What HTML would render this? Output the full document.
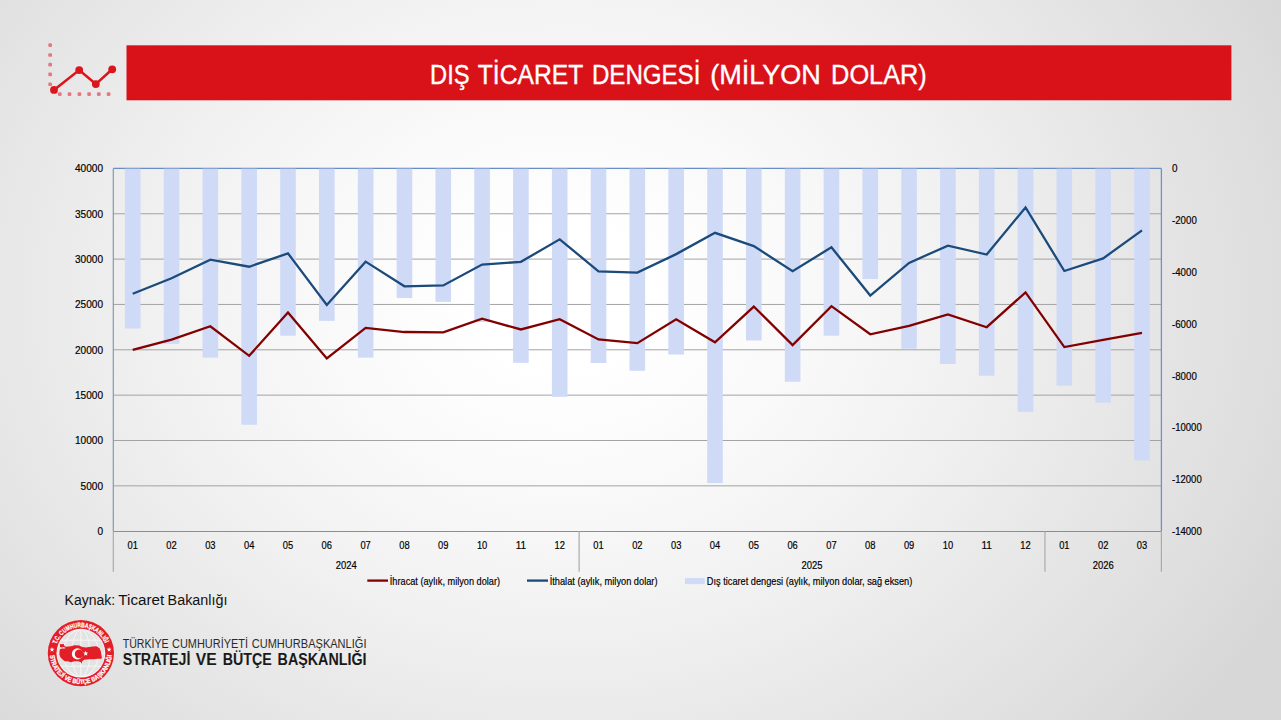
<!DOCTYPE html>
<html><head><meta charset="utf-8"><title>Dış Ticaret Dengesi</title>
<style>
html,body{margin:0;padding:0;}
body{width:1281px;height:720px;overflow:hidden;position:relative;background:radial-gradient(ellipse 810px 660px at 562px 298px, rgb(255,255,255) 0%, rgb(255,255,255) 10%, rgb(252,252,252) 20%, rgb(249,249,249) 30%, rgb(245,245,245) 40%, rgb(241,241,241) 50%, rgb(236,236,236) 60%, rgb(231,231,231) 70%, rgb(226,226,226) 80%, rgb(221,221,221) 90%, rgb(215,215,215) 100%);font-family:"Liberation Sans",sans-serif;}
svg{position:absolute;left:0;top:0;}
</style></head><body>
<svg width="1281" height="720" viewBox="0 0 1281 720">
<rect x="48.3" y="43.25" width="3.7" height="3.7" rx="1.2" fill="#e27980"/>
<rect x="48.3" y="53.15" width="3.7" height="3.7" rx="1.2" fill="#e27980"/>
<rect x="48.3" y="62.85" width="3.7" height="3.7" rx="1.2" fill="#e27980"/>
<rect x="48.3" y="72.55" width="3.7" height="3.7" rx="1.2" fill="#e27980"/>
<rect x="48.3" y="82.40" width="3.7" height="3.7" rx="1.2" fill="#e27980"/>
<rect x="57.95" y="92.35" width="3.7" height="3.7" rx="1.2" fill="#e27980"/>
<rect x="67.65" y="92.35" width="3.7" height="3.7" rx="1.2" fill="#e27980"/>
<rect x="77.55" y="92.35" width="3.7" height="3.7" rx="1.2" fill="#e27980"/>
<rect x="87.25" y="92.35" width="3.7" height="3.7" rx="1.2" fill="#e27980"/>
<rect x="96.95" y="92.35" width="3.7" height="3.7" rx="1.2" fill="#e27980"/>
<rect x="106.75" y="92.35" width="3.7" height="3.7" rx="1.2" fill="#e27980"/>
<polyline points="54,89.9 79.2,70.1 95.8,84.1 112.2,69.3" fill="none" stroke="#dc141c" stroke-width="2.6"/>
<circle cx="54" cy="89.9" r="3.9" fill="#dc141c"/>
<circle cx="79.2" cy="70.1" r="3.9" fill="#dc141c"/>
<circle cx="95.8" cy="84.1" r="3.9" fill="#dc141c"/>
<circle cx="112.2" cy="69.3" r="3.9" fill="#dc141c"/>
<rect x="126.5" y="45.3" width="1104.9" height="55" fill="#d9121a"/>
<text x="430.1" y="83.6" font-size="27" fill="#fff" stroke="#fff" stroke-width="0.35" font-family="Liberation Sans, sans-serif" textLength="39.5" lengthAdjust="spacingAndGlyphs">DIŞ</text>
<text x="477.8" y="83.6" font-size="27" fill="#fff" stroke="#fff" stroke-width="0.35" font-family="Liberation Sans, sans-serif" textLength="105.5" lengthAdjust="spacingAndGlyphs">TİCARET</text>
<text x="591.9" y="83.6" font-size="27" fill="#fff" stroke="#fff" stroke-width="0.35" font-family="Liberation Sans, sans-serif" textLength="108.5" lengthAdjust="spacingAndGlyphs">DENGESİ</text>
<text x="710.2" y="83.6" font-size="27" fill="#fff" stroke="#fff" stroke-width="0.35" font-family="Liberation Sans, sans-serif" textLength="110.7" lengthAdjust="spacingAndGlyphs">(MİLYON</text>
<text x="831.1" y="83.6" font-size="27" fill="#fff" stroke="#fff" stroke-width="0.35" font-family="Liberation Sans, sans-serif" textLength="95.7" lengthAdjust="spacingAndGlyphs">DOLAR)</text>
<line x1="113.3" y1="485.85" x2="1161.4" y2="485.85" stroke="#a3a3a3" stroke-width="1"/>
<line x1="113.3" y1="440.50" x2="1161.4" y2="440.50" stroke="#a3a3a3" stroke-width="1"/>
<line x1="113.3" y1="395.15" x2="1161.4" y2="395.15" stroke="#a3a3a3" stroke-width="1"/>
<line x1="113.3" y1="349.80" x2="1161.4" y2="349.80" stroke="#a3a3a3" stroke-width="1"/>
<line x1="113.3" y1="304.45" x2="1161.4" y2="304.45" stroke="#a3a3a3" stroke-width="1"/>
<line x1="113.3" y1="259.10" x2="1161.4" y2="259.10" stroke="#a3a3a3" stroke-width="1"/>
<line x1="113.3" y1="213.75" x2="1161.4" y2="213.75" stroke="#a3a3a3" stroke-width="1"/>
<line x1="113.3" y1="168.4" x2="1161.4" y2="168.4" stroke="#6a8cc6" stroke-width="1.3"/>
<rect x="124.91" y="168.70" width="15.6" height="159.80" fill="#cfdaf7"/>
<rect x="163.73" y="168.70" width="15.6" height="175.09" fill="#cfdaf7"/>
<rect x="202.55" y="168.70" width="15.6" height="188.90" fill="#cfdaf7"/>
<rect x="241.36" y="168.70" width="15.6" height="256.04" fill="#cfdaf7"/>
<rect x="280.18" y="168.70" width="15.6" height="167.00" fill="#cfdaf7"/>
<rect x="319.00" y="168.70" width="15.6" height="152.18" fill="#cfdaf7"/>
<rect x="357.82" y="168.70" width="15.6" height="188.90" fill="#cfdaf7"/>
<rect x="396.64" y="168.70" width="15.6" height="129.27" fill="#cfdaf7"/>
<rect x="435.46" y="168.70" width="15.6" height="133.18" fill="#cfdaf7"/>
<rect x="474.28" y="168.70" width="15.6" height="153.37" fill="#cfdaf7"/>
<rect x="513.09" y="168.70" width="15.6" height="194.11" fill="#cfdaf7"/>
<rect x="551.91" y="168.70" width="15.6" height="228.13" fill="#cfdaf7"/>
<rect x="590.73" y="168.70" width="15.6" height="194.32" fill="#cfdaf7"/>
<rect x="629.55" y="168.70" width="15.6" height="202.09" fill="#cfdaf7"/>
<rect x="668.37" y="168.70" width="15.6" height="185.84" fill="#cfdaf7"/>
<rect x="707.19" y="168.70" width="15.6" height="314.38" fill="#cfdaf7"/>
<rect x="746.01" y="168.70" width="15.6" height="171.77" fill="#cfdaf7"/>
<rect x="784.82" y="168.70" width="15.6" height="213.03" fill="#cfdaf7"/>
<rect x="823.64" y="168.70" width="15.6" height="167.00" fill="#cfdaf7"/>
<rect x="862.46" y="168.70" width="15.6" height="110.25" fill="#cfdaf7"/>
<rect x="901.28" y="168.70" width="15.6" height="180.01" fill="#cfdaf7"/>
<rect x="940.10" y="168.70" width="15.6" height="195.30" fill="#cfdaf7"/>
<rect x="978.92" y="168.70" width="15.6" height="207.01" fill="#cfdaf7"/>
<rect x="1017.74" y="168.70" width="15.6" height="243.14" fill="#cfdaf7"/>
<rect x="1056.55" y="168.70" width="15.6" height="217.02" fill="#cfdaf7"/>
<rect x="1095.37" y="168.70" width="15.6" height="233.94" fill="#cfdaf7"/>
<rect x="1134.19" y="168.70" width="15.6" height="291.75" fill="#cfdaf7"/>
<line x1="113.3" y1="531.5" x2="1161.4" y2="531.5" stroke="#7d90aa" stroke-width="1"/>
<line x1="113.3" y1="168.4" x2="113.3" y2="531.2" stroke="#8599b3" stroke-width="1.2"/>
<line x1="113.3" y1="531.2" x2="113.3" y2="571.8" stroke="#ababab" stroke-width="1.2"/>
<line x1="1161.4" y1="168.4" x2="1161.4" y2="531.2" stroke="#6b93c9" stroke-width="1.3"/>
<line x1="1161.4" y1="531.2" x2="1161.4" y2="571.8" stroke="#ababab" stroke-width="1.2"/>
<line x1="579.12" y1="531.2" x2="579.12" y2="571.8" stroke="#ababab" stroke-width="1.2"/>
<line x1="1044.94" y1="531.2" x2="1044.94" y2="571.8" stroke="#ababab" stroke-width="1.2"/>
<polyline points="132.71,293.75 171.53,278.24 210.35,259.64 249.16,266.72 287.98,253.39 326.80,304.90 365.62,261.64 404.44,286.31 443.26,285.40 482.08,264.54 520.89,261.82 559.71,239.33 598.53,271.34 637.35,272.61 676.17,254.11 714.99,232.80 753.81,246.13 792.62,271.16 831.44,247.31 870.26,295.56 909.08,262.91 947.90,245.59 986.72,254.56 1025.54,207.40 1064.35,270.98 1103.17,258.37 1141.99,230.35" fill="none" stroke="#1b4a7b" stroke-width="2.3" stroke-linejoin="miter" stroke-miterlimit="10"/>
<polyline points="132.71,349.80 171.53,339.64 210.35,326.22 249.16,355.79 287.98,312.52 326.80,358.51 365.62,327.85 404.44,332.02 443.26,332.39 482.08,318.69 520.89,329.48 559.71,319.23 598.53,339.46 637.35,343.18 676.17,319.23 714.99,342.36 753.81,306.54 792.62,345.08 831.44,306.17 870.26,334.29 909.08,325.95 947.90,314.52 986.72,327.22 1025.54,292.39 1064.35,347.08 1103.17,339.82 1141.99,332.84" fill="none" stroke="#820000" stroke-width="2.3" stroke-linejoin="miter" stroke-miterlimit="10"/>
<text x="103" y="535.00" text-anchor="end" font-size="10.4" fill="#000" font-family="Liberation Sans, sans-serif" stroke="#000" stroke-width="0.18" textLength="5.6" lengthAdjust="spacingAndGlyphs">0</text>
<text x="103" y="489.65" text-anchor="end" font-size="10.4" fill="#000" font-family="Liberation Sans, sans-serif" stroke="#000" stroke-width="0.18" textLength="22.4" lengthAdjust="spacingAndGlyphs">5000</text>
<text x="103" y="444.30" text-anchor="end" font-size="10.4" fill="#000" font-family="Liberation Sans, sans-serif" stroke="#000" stroke-width="0.18" textLength="28.0" lengthAdjust="spacingAndGlyphs">10000</text>
<text x="103" y="398.95" text-anchor="end" font-size="10.4" fill="#000" font-family="Liberation Sans, sans-serif" stroke="#000" stroke-width="0.18" textLength="28.0" lengthAdjust="spacingAndGlyphs">15000</text>
<text x="103" y="353.60" text-anchor="end" font-size="10.4" fill="#000" font-family="Liberation Sans, sans-serif" stroke="#000" stroke-width="0.18" textLength="28.0" lengthAdjust="spacingAndGlyphs">20000</text>
<text x="103" y="308.25" text-anchor="end" font-size="10.4" fill="#000" font-family="Liberation Sans, sans-serif" stroke="#000" stroke-width="0.18" textLength="28.0" lengthAdjust="spacingAndGlyphs">25000</text>
<text x="103" y="262.90" text-anchor="end" font-size="10.4" fill="#000" font-family="Liberation Sans, sans-serif" stroke="#000" stroke-width="0.18" textLength="28.0" lengthAdjust="spacingAndGlyphs">30000</text>
<text x="103" y="217.55" text-anchor="end" font-size="10.4" fill="#000" font-family="Liberation Sans, sans-serif" stroke="#000" stroke-width="0.18" textLength="28.0" lengthAdjust="spacingAndGlyphs">35000</text>
<text x="103" y="172.20" text-anchor="end" font-size="10.4" fill="#000" font-family="Liberation Sans, sans-serif" stroke="#000" stroke-width="0.18" textLength="28.0" lengthAdjust="spacingAndGlyphs">40000</text>
<text x="1172" y="172.30" font-size="11" fill="#000" font-family="Liberation Sans, sans-serif" stroke="#000" stroke-width="0.18" textLength="5.5" lengthAdjust="spacingAndGlyphs">0</text>
<text x="1172" y="224.13" font-size="11" fill="#000" font-family="Liberation Sans, sans-serif" stroke="#000" stroke-width="0.18" textLength="24.8" lengthAdjust="spacingAndGlyphs">-2000</text>
<text x="1172" y="275.96" font-size="11" fill="#000" font-family="Liberation Sans, sans-serif" stroke="#000" stroke-width="0.18" textLength="24.8" lengthAdjust="spacingAndGlyphs">-4000</text>
<text x="1172" y="327.79" font-size="11" fill="#000" font-family="Liberation Sans, sans-serif" stroke="#000" stroke-width="0.18" textLength="24.8" lengthAdjust="spacingAndGlyphs">-6000</text>
<text x="1172" y="379.61" font-size="11" fill="#000" font-family="Liberation Sans, sans-serif" stroke="#000" stroke-width="0.18" textLength="24.8" lengthAdjust="spacingAndGlyphs">-8000</text>
<text x="1172" y="431.44" font-size="11" fill="#000" font-family="Liberation Sans, sans-serif" stroke="#000" stroke-width="0.18" textLength="29.7" lengthAdjust="spacingAndGlyphs">-10000</text>
<text x="1172" y="483.27" font-size="11" fill="#000" font-family="Liberation Sans, sans-serif" stroke="#000" stroke-width="0.18" textLength="29.7" lengthAdjust="spacingAndGlyphs">-12000</text>
<text x="1172" y="535.10" font-size="11" fill="#000" font-family="Liberation Sans, sans-serif" stroke="#000" stroke-width="0.18" textLength="29.7" lengthAdjust="spacingAndGlyphs">-14000</text>
<text x="132.71" y="548.9" text-anchor="middle" font-size="11.4" fill="#000" font-family="Liberation Sans, sans-serif" stroke="#000" stroke-width="0.18" textLength="10.4" lengthAdjust="spacingAndGlyphs">01</text>
<text x="171.53" y="548.9" text-anchor="middle" font-size="11.4" fill="#000" font-family="Liberation Sans, sans-serif" stroke="#000" stroke-width="0.18" textLength="10.4" lengthAdjust="spacingAndGlyphs">02</text>
<text x="210.35" y="548.9" text-anchor="middle" font-size="11.4" fill="#000" font-family="Liberation Sans, sans-serif" stroke="#000" stroke-width="0.18" textLength="10.4" lengthAdjust="spacingAndGlyphs">03</text>
<text x="249.16" y="548.9" text-anchor="middle" font-size="11.4" fill="#000" font-family="Liberation Sans, sans-serif" stroke="#000" stroke-width="0.18" textLength="10.4" lengthAdjust="spacingAndGlyphs">04</text>
<text x="287.98" y="548.9" text-anchor="middle" font-size="11.4" fill="#000" font-family="Liberation Sans, sans-serif" stroke="#000" stroke-width="0.18" textLength="10.4" lengthAdjust="spacingAndGlyphs">05</text>
<text x="326.80" y="548.9" text-anchor="middle" font-size="11.4" fill="#000" font-family="Liberation Sans, sans-serif" stroke="#000" stroke-width="0.18" textLength="10.4" lengthAdjust="spacingAndGlyphs">06</text>
<text x="365.62" y="548.9" text-anchor="middle" font-size="11.4" fill="#000" font-family="Liberation Sans, sans-serif" stroke="#000" stroke-width="0.18" textLength="10.4" lengthAdjust="spacingAndGlyphs">07</text>
<text x="404.44" y="548.9" text-anchor="middle" font-size="11.4" fill="#000" font-family="Liberation Sans, sans-serif" stroke="#000" stroke-width="0.18" textLength="10.4" lengthAdjust="spacingAndGlyphs">08</text>
<text x="443.26" y="548.9" text-anchor="middle" font-size="11.4" fill="#000" font-family="Liberation Sans, sans-serif" stroke="#000" stroke-width="0.18" textLength="10.4" lengthAdjust="spacingAndGlyphs">09</text>
<text x="482.08" y="548.9" text-anchor="middle" font-size="11.4" fill="#000" font-family="Liberation Sans, sans-serif" stroke="#000" stroke-width="0.18" textLength="10.4" lengthAdjust="spacingAndGlyphs">10</text>
<text x="520.89" y="548.9" text-anchor="middle" font-size="11.4" fill="#000" font-family="Liberation Sans, sans-serif" stroke="#000" stroke-width="0.18" textLength="10.4" lengthAdjust="spacingAndGlyphs">11</text>
<text x="559.71" y="548.9" text-anchor="middle" font-size="11.4" fill="#000" font-family="Liberation Sans, sans-serif" stroke="#000" stroke-width="0.18" textLength="10.4" lengthAdjust="spacingAndGlyphs">12</text>
<text x="598.53" y="548.9" text-anchor="middle" font-size="11.4" fill="#000" font-family="Liberation Sans, sans-serif" stroke="#000" stroke-width="0.18" textLength="10.4" lengthAdjust="spacingAndGlyphs">01</text>
<text x="637.35" y="548.9" text-anchor="middle" font-size="11.4" fill="#000" font-family="Liberation Sans, sans-serif" stroke="#000" stroke-width="0.18" textLength="10.4" lengthAdjust="spacingAndGlyphs">02</text>
<text x="676.17" y="548.9" text-anchor="middle" font-size="11.4" fill="#000" font-family="Liberation Sans, sans-serif" stroke="#000" stroke-width="0.18" textLength="10.4" lengthAdjust="spacingAndGlyphs">03</text>
<text x="714.99" y="548.9" text-anchor="middle" font-size="11.4" fill="#000" font-family="Liberation Sans, sans-serif" stroke="#000" stroke-width="0.18" textLength="10.4" lengthAdjust="spacingAndGlyphs">04</text>
<text x="753.81" y="548.9" text-anchor="middle" font-size="11.4" fill="#000" font-family="Liberation Sans, sans-serif" stroke="#000" stroke-width="0.18" textLength="10.4" lengthAdjust="spacingAndGlyphs">05</text>
<text x="792.62" y="548.9" text-anchor="middle" font-size="11.4" fill="#000" font-family="Liberation Sans, sans-serif" stroke="#000" stroke-width="0.18" textLength="10.4" lengthAdjust="spacingAndGlyphs">06</text>
<text x="831.44" y="548.9" text-anchor="middle" font-size="11.4" fill="#000" font-family="Liberation Sans, sans-serif" stroke="#000" stroke-width="0.18" textLength="10.4" lengthAdjust="spacingAndGlyphs">07</text>
<text x="870.26" y="548.9" text-anchor="middle" font-size="11.4" fill="#000" font-family="Liberation Sans, sans-serif" stroke="#000" stroke-width="0.18" textLength="10.4" lengthAdjust="spacingAndGlyphs">08</text>
<text x="909.08" y="548.9" text-anchor="middle" font-size="11.4" fill="#000" font-family="Liberation Sans, sans-serif" stroke="#000" stroke-width="0.18" textLength="10.4" lengthAdjust="spacingAndGlyphs">09</text>
<text x="947.90" y="548.9" text-anchor="middle" font-size="11.4" fill="#000" font-family="Liberation Sans, sans-serif" stroke="#000" stroke-width="0.18" textLength="10.4" lengthAdjust="spacingAndGlyphs">10</text>
<text x="986.72" y="548.9" text-anchor="middle" font-size="11.4" fill="#000" font-family="Liberation Sans, sans-serif" stroke="#000" stroke-width="0.18" textLength="10.4" lengthAdjust="spacingAndGlyphs">11</text>
<text x="1025.54" y="548.9" text-anchor="middle" font-size="11.4" fill="#000" font-family="Liberation Sans, sans-serif" stroke="#000" stroke-width="0.18" textLength="10.4" lengthAdjust="spacingAndGlyphs">12</text>
<text x="1064.35" y="548.9" text-anchor="middle" font-size="11.4" fill="#000" font-family="Liberation Sans, sans-serif" stroke="#000" stroke-width="0.18" textLength="10.4" lengthAdjust="spacingAndGlyphs">01</text>
<text x="1103.17" y="548.9" text-anchor="middle" font-size="11.4" fill="#000" font-family="Liberation Sans, sans-serif" stroke="#000" stroke-width="0.18" textLength="10.4" lengthAdjust="spacingAndGlyphs">02</text>
<text x="1141.99" y="548.9" text-anchor="middle" font-size="11.4" fill="#000" font-family="Liberation Sans, sans-serif" stroke="#000" stroke-width="0.18" textLength="10.4" lengthAdjust="spacingAndGlyphs">03</text>
<text x="346.21" y="569.3" text-anchor="middle" font-size="11.4" fill="#000" font-family="Liberation Sans, sans-serif" stroke="#000" stroke-width="0.18" textLength="21" lengthAdjust="spacingAndGlyphs">2024</text>
<text x="812.03" y="569.3" text-anchor="middle" font-size="11.4" fill="#000" font-family="Liberation Sans, sans-serif" stroke="#000" stroke-width="0.18" textLength="21" lengthAdjust="spacingAndGlyphs">2025</text>
<text x="1103.17" y="569.3" text-anchor="middle" font-size="11.4" fill="#000" font-family="Liberation Sans, sans-serif" stroke="#000" stroke-width="0.18" textLength="21" lengthAdjust="spacingAndGlyphs">2026</text>
<line x1="367.3" y1="580.6" x2="388" y2="580.6" stroke="#820000" stroke-width="2.3"/>
<text x="389.8" y="584.8" font-size="11" fill="#000" font-family="Liberation Sans, sans-serif" stroke="#000" stroke-width="0.18" textLength="110.3" lengthAdjust="spacingAndGlyphs">İhracat (aylık, milyon dolar)</text>
<line x1="527" y1="580.6" x2="548" y2="580.6" stroke="#1b4a7b" stroke-width="2.3"/>
<text x="549.7" y="584.8" font-size="11" fill="#000" font-family="Liberation Sans, sans-serif" stroke="#000" stroke-width="0.18" textLength="107.8" lengthAdjust="spacingAndGlyphs">İthalat (aylık, milyon dolar)</text>
<rect x="685" y="578.1" width="19.7" height="6" fill="#cfdaf7"/>
<text x="706.8" y="584.8" font-size="11" fill="#000" font-family="Liberation Sans, sans-serif" stroke="#000" stroke-width="0.18" textLength="205.5" lengthAdjust="spacingAndGlyphs">Dış ticaret dengesi (aylık, milyon dolar, sağ eksen)</text>
<text x="64.6" y="604.5" font-size="15.5" fill="#111" font-family="Liberation Sans, sans-serif" textLength="50.6" lengthAdjust="spacingAndGlyphs">Kaynak:</text>
<text x="118.3" y="604.5" font-size="15.5" fill="#111" font-family="Liberation Sans, sans-serif" textLength="45.9" lengthAdjust="spacingAndGlyphs">Ticaret</text>
<text x="167.6" y="604.5" font-size="15.5" fill="#111" font-family="Liberation Sans, sans-serif" textLength="59.9" lengthAdjust="spacingAndGlyphs">Bakanlığı</text>

<g transform="translate(80.9,653.2)">
<circle r="33.1" fill="#e41e26"/>
<circle r="24.4" fill="#f4f4f4"/>
<circle r="23.4" fill="#e3e3e3"/>
<g stroke="#f7f7f7" stroke-width="1.0" fill="none">
<ellipse rx="9" ry="23.4"/><ellipse rx="17.5" ry="23.4"/><line x1="0" y1="-23.4" x2="0" y2="23.4"/>
<line x1="-23.4" y1="0" x2="23.4" y2="0"/><line x1="-19.5" y1="-13" x2="19.5" y2="-13"/><line x1="-19.5" y1="13" x2="19.5" y2="13"/>
</g>
<polygon points="-21.0,-9.0 -17.2,-9.2 -16.2,-7.0 -14.7,-6.5 -9.9,-7.0 -6.5,-8.0 -1.6,-7.8 1.3,-6.3 5.2,-5.8 8.1,-6.1 12.0,-6.8 15.4,-7.0 16.9,-6.1 18.8,-4.6 19.8,-2.2 20.3,0.3 21.0,4.6 20.3,5.6 16.9,5.6 13.0,6.1 8.1,6.1 3.3,6.6 1.3,8.0 0.8,10.5 -0.1,9.0 -2.6,8.0 -6.5,8.0 -9.9,9.0 -13.3,8.0 -16.2,8.0 -18.6,6.1 -20.6,3.7 -21.5,1.2 -21.3,-2.7 -20.6,-4.1 -18.6,-4.6 -16.2,-4.6 -15.2,-5.3 -17.2,-6.1 -19.1,-5.6 -20.8,-6.1" fill="#e41e26"/>
<circle cx="-3.5" cy="0.7" r="5.6" fill="#fff"/>
<circle cx="-1.8" cy="0.7" r="4.3" fill="#e41e26"/>
<polygon points="4.80,-2.50 5.48,-0.63 7.46,-0.57 5.89,0.66 6.45,2.57 4.80,1.45 3.15,2.57 3.71,0.66 2.14,-0.57 4.12,-0.63" fill="#fff"/>
<path id="arcTop" d="M-24.43,-8.89 A26.0,26.0 0 0 1 23.93,-10.16" fill="none"/>
<path id="arcBot" d="M-30.82,2.16 A30.9,30.9 0 0 0 30.82,2.16" fill="none"/>
<text font-size="6.6" font-weight="bold" fill="#fff" stroke="#fff" stroke-width="0.25" font-family="Liberation Sans, sans-serif"><textPath href="#arcTop" textLength="62.2" lengthAdjust="spacingAndGlyphs">T.C. CUMHURBAŞKANLIĞI</textPath></text>
<text font-size="6.6" font-weight="bold" fill="#fff" stroke="#fff" stroke-width="0.25" font-family="Liberation Sans, sans-serif"><textPath href="#arcBot" textLength="92.8" lengthAdjust="spacingAndGlyphs">STRATEJİ VE BÜTÇE BAŞKANLIĞI</textPath></text>
<polygon points="-28.90,-6.20 -28.28,-4.45 -26.43,-4.40 -27.90,-3.28 -27.37,-1.50 -28.90,-2.55 -30.43,-1.50 -29.90,-3.28 -31.37,-4.40 -29.52,-4.45" fill="#fff"/>
<polygon points="28.20,-6.20 28.82,-4.45 30.67,-4.40 29.20,-3.28 29.73,-1.50 28.20,-2.55 26.67,-1.50 27.20,-3.28 25.73,-4.40 27.58,-4.45" fill="#fff"/>
</g>

<text x="122.7" y="647.8" font-size="11.9" fill="#2a2a2a" font-family="Liberation Sans, sans-serif" textLength="45.9" lengthAdjust="spacingAndGlyphs">TÜRKİYE</text>
<text x="172.0" y="647.8" font-size="11.9" fill="#2a2a2a" font-family="Liberation Sans, sans-serif" textLength="76.0" lengthAdjust="spacingAndGlyphs">CUMHURİYETİ</text>
<text x="251.7" y="647.8" font-size="11.9" fill="#2a2a2a" font-family="Liberation Sans, sans-serif" textLength="114.8" lengthAdjust="spacingAndGlyphs">CUMHURBAŞKANLIĞI</text>
<text x="122.7" y="665.3" font-size="15.6" font-weight="bold" fill="#1a1a1a" font-family="Liberation Sans, sans-serif" textLength="67.7" lengthAdjust="spacingAndGlyphs">STRATEJİ</text>
<text x="195.7" y="665.3" font-size="15.6" font-weight="bold" fill="#1a1a1a" font-family="Liberation Sans, sans-serif" textLength="20.9" lengthAdjust="spacingAndGlyphs">VE</text>
<text x="222.7" y="665.3" font-size="15.6" font-weight="bold" fill="#1a1a1a" font-family="Liberation Sans, sans-serif" textLength="49.1" lengthAdjust="spacingAndGlyphs">BÜTÇE</text>
<text x="277.6" y="665.3" font-size="15.6" font-weight="bold" fill="#1a1a1a" font-family="Liberation Sans, sans-serif" textLength="88.9" lengthAdjust="spacingAndGlyphs">BAŞKANLIĞI</text>
</svg>
</body></html>
